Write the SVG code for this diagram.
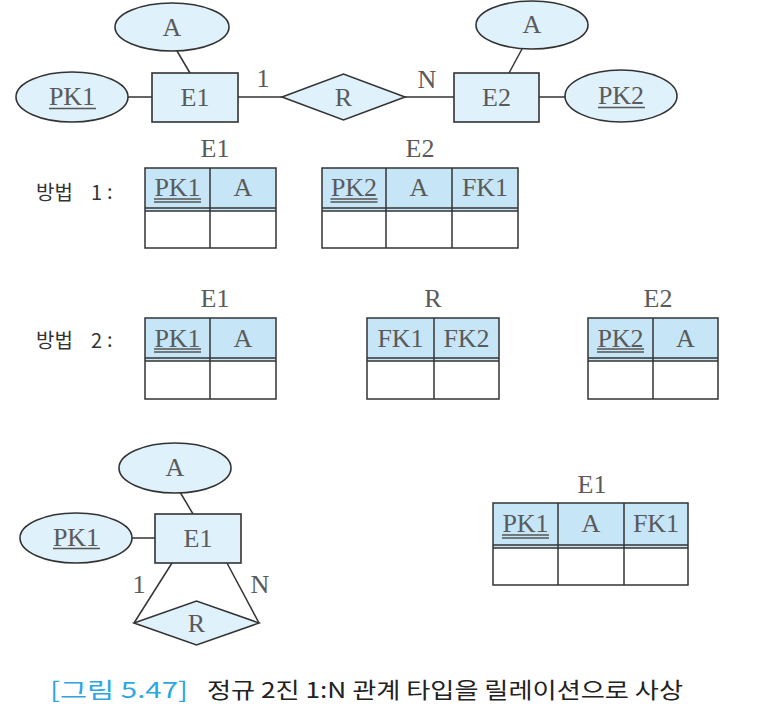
<svg xmlns="http://www.w3.org/2000/svg" width="757" height="718" viewBox="0 0 757 718">
<style>
.shape{fill:#dff1fb;stroke:#333;stroke-width:1.6}
.hdr{fill:#c6e6f7;stroke:none}
.body{fill:#fff;stroke:none}
.ln{stroke:#333;stroke-width:1.5;fill:none}
.ul{stroke:#555;stroke-width:1.3}
.t{font-family:"Liberation Serif","Times New Roman",serif;font-size:26px;fill:#5a5a5a;text-anchor:middle;dominant-baseline:central}
.ko{font-family:"Noto Sans CJK KR","Noto Sans",sans-serif;fill:#333;font-weight:normal}
</style>
<rect width="757" height="718" fill="#fff"/>

<g id="connectors">
  <line class="ln" x1="177" y1="51" x2="190" y2="73"/>
  <line class="ln" x1="128" y1="97" x2="152" y2="97"/>
  <line class="ln" x1="238" y1="97" x2="282" y2="97"/>
  <line class="ln" x1="405" y1="97" x2="454" y2="97"/>
  <line class="ln" x1="522" y1="49" x2="509" y2="73"/>
  <line class="ln" x1="539" y1="97" x2="565" y2="97"/>
  <line class="ln" x1="180" y1="492" x2="193" y2="514"/>
  <line class="ln" x1="132" y1="538" x2="155" y2="538"/>
  <line class="ln" x1="172" y1="563" x2="134" y2="623"/>
  <line class="ln" x1="227" y1="563" x2="259" y2="623"/>
  <text class="t" x="263" y="78">1</text>
  <text class="t" x="427" y="79">N</text>
  <text class="t" x="139" y="584">1</text>
  <text class="t" x="260" y="584">N</text>
</g>

<!-- Top ER -->
<g id="top-A1"><ellipse class="shape" cx="172" cy="27" rx="57" ry="24"/><text class="t" x="172" y="27">A</text></g>
<g id="top-PK1"><ellipse class="shape" cx="72" cy="97" rx="56" ry="25"/><text class="t" x="72" y="96">PK1</text><line class="ul" x1="49" y1="108.5" x2="96" y2="108.5"/></g>
<g id="top-E1"><rect class="shape" x="152" y="73" width="86" height="49"/><text class="t" x="195" y="97">E1</text></g>
<g id="top-R"><polygon class="shape" points="282,97 343.5,74 405,97 343.5,120"/><text class="t" x="343.5" y="97">R</text></g>
<g id="top-E2"><rect class="shape" x="454" y="73" width="85" height="49"/><text class="t" x="496.5" y="97">E2</text></g>
<g id="top-A2"><ellipse class="shape" cx="532" cy="25" rx="56" ry="24"/><text class="t" x="532" y="24">A</text></g>
<g id="top-PK2"><ellipse class="shape" cx="621" cy="96" rx="56" ry="26"/><text class="t" x="621" y="95">PK2</text><line class="ul" x1="598" y1="107.5" x2="645" y2="107.5"/></g>

<!-- Method 1 -->
<g id="m1-label"><text class="ko" x="36" y="200" font-size="20">방법</text><text class="ko" x="91" y="200" font-size="20">1</text><text class="ko" x="107" y="199" font-size="20">:</text></g>
<g id="m1-E1">
  <text class="t" x="215" y="148">E1</text>
  <rect class="hdr" x="145" y="168" width="131" height="43"/>
  <rect class="body" x="145" y="211" width="131" height="37"/>
  <line class="ln" x1="145" y1="208" x2="276" y2="208"/><line class="ln" x1="145" y1="211" x2="276" y2="211"/>
  <line class="ln" x1="210" y1="168" x2="210" y2="248"/>
  <rect class="ln" x="145" y="168" width="131" height="80"/>
  <text class="t" x="177.5" y="187">PK1</text><line class="ul" x1="154" y1="199" x2="201" y2="199"/><line class="ul" x1="154" y1="202" x2="201" y2="202"/>
  <text class="t" x="243" y="187">A</text>
</g>
<g id="m1-E2">
  <text class="t" x="420" y="148">E2</text>
  <rect class="hdr" x="322" y="168" width="196" height="43"/>
  <rect class="body" x="322" y="211" width="196" height="37"/>
  <line class="ln" x1="322" y1="208" x2="518" y2="208"/><line class="ln" x1="322" y1="211" x2="518" y2="211"/>
  <line class="ln" x1="386" y1="168" x2="386" y2="248"/><line class="ln" x1="452" y1="168" x2="452" y2="248"/>
  <rect class="ln" x="322" y="168" width="196" height="80"/>
  <text class="t" x="354" y="187">PK2</text><line class="ul" x1="330.5" y1="199" x2="377.5" y2="199"/><line class="ul" x1="330.5" y1="202" x2="377.5" y2="202"/>
  <text class="t" x="419" y="187">A</text>
  <text class="t" x="485" y="187">FK1</text>
</g>

<!-- Method 2 -->
<g id="m2-label"><text class="ko" x="36" y="348" font-size="20">방법</text><text class="ko" x="91" y="348" font-size="20">2</text><text class="ko" x="107" y="347" font-size="20">:</text></g>
<g id="m2-E1">
  <text class="t" x="215" y="298">E1</text>
  <rect class="hdr" x="145" y="318" width="131" height="43"/>
  <rect class="body" x="145" y="361" width="131" height="38"/>
  <line class="ln" x1="145" y1="358" x2="276" y2="358"/><line class="ln" x1="145" y1="361" x2="276" y2="361"/>
  <line class="ln" x1="210" y1="318" x2="210" y2="399"/>
  <rect class="ln" x="145" y="318" width="131" height="81"/>
  <text class="t" x="177.5" y="338">PK1</text><line class="ul" x1="154" y1="349" x2="201" y2="349"/><line class="ul" x1="154" y1="352" x2="201" y2="352"/>
  <text class="t" x="243" y="338">A</text>
</g>
<g id="m2-R">
  <text class="t" x="433" y="298">R</text>
  <rect class="hdr" x="367" y="318" width="132" height="43"/>
  <rect class="body" x="367" y="361" width="132" height="38"/>
  <line class="ln" x1="367" y1="358" x2="499" y2="358"/><line class="ln" x1="367" y1="361" x2="499" y2="361"/>
  <line class="ln" x1="434" y1="318" x2="434" y2="399"/>
  <rect class="ln" x="367" y="318" width="132" height="81"/>
  <text class="t" x="400.5" y="338">FK1</text>
  <text class="t" x="466.5" y="338">FK2</text>
</g>
<g id="m2-E2">
  <text class="t" x="658" y="298">E2</text>
  <rect class="hdr" x="588" y="318" width="130" height="43"/>
  <rect class="body" x="588" y="361" width="130" height="38"/>
  <line class="ln" x1="588" y1="358" x2="718" y2="358"/><line class="ln" x1="588" y1="361" x2="718" y2="361"/>
  <line class="ln" x1="653" y1="318" x2="653" y2="399"/>
  <rect class="ln" x="588" y="318" width="130" height="81"/>
  <text class="t" x="620.5" y="338">PK2</text><line class="ul" x1="597" y1="349" x2="644" y2="349"/><line class="ul" x1="597" y1="352" x2="644" y2="352"/>
  <text class="t" x="685.5" y="338">A</text>
</g>

<!-- Bottom ER (recursive) -->
<g id="bot-A"><ellipse class="shape" cx="175" cy="468" rx="56" ry="25"/><text class="t" x="175" y="467">A</text></g>
<g id="bot-PK1"><ellipse class="shape" cx="76" cy="538" rx="56" ry="25"/><text class="t" x="76" y="537">PK1</text><line class="ul" x1="53" y1="548.5" x2="100" y2="548.5"/></g>
<g id="bot-E1"><rect class="shape" x="155" y="514" width="86" height="49"/><text class="t" x="198" y="538">E1</text></g>
<g id="bot-R"><polygon class="shape" points="134,623 196.5,601 259,623 196.5,645"/><text class="t" x="196.5" y="623">R</text></g>

<!-- Bottom-right table -->
<g id="bot-table">
  <text class="t" x="592" y="484">E1</text>
  <rect class="hdr" x="493" y="503" width="195" height="45"/>
  <rect class="body" x="493" y="548" width="195" height="37"/>
  <line class="ln" x1="493" y1="545" x2="688" y2="545"/><line class="ln" x1="493" y1="548" x2="688" y2="548"/>
  <line class="ln" x1="558" y1="503" x2="558" y2="585"/><line class="ln" x1="624" y1="503" x2="624" y2="585"/>
  <rect class="ln" x="493" y="503" width="195" height="82"/>
  <text class="t" x="525.5" y="523">PK1</text><line class="ul" x1="502" y1="535" x2="549" y2="535"/><line class="ul" x1="502" y1="538" x2="549" y2="538"/>
  <text class="t" x="591" y="523">A</text>
  <text class="t" x="656" y="523">FK1</text>
</g>

<g id="caption">
  <text class="ko" x="50" y="698" font-size="22" style="fill:#2ea7e0" textLength="138" lengthAdjust="spacingAndGlyphs">[그림 5.47]</text>
  <text class="ko" x="207" y="698" font-size="22" style="fill:#222" textLength="476" lengthAdjust="spacingAndGlyphs">정규 2진 1:N 관계 타입을 릴레이션으로 사상</text>
</g>
</svg>
